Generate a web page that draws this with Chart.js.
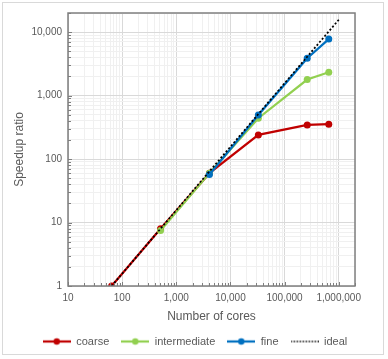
<!DOCTYPE html>
<html>
<head>
<meta charset="utf-8">
<script src="https://cdn.jsdelivr.net/npm/chart.js@4.4.1/dist/chart.umd.min.js"></script>
<style>
    html, body { margin: 0; padding: 0; background: #fff; }
    #wrap { position: relative; width: 388px; height: 359px; }
    #frame { position: absolute; left: 2px; top: 2px; width: 382px; height: 353px; border: 1px solid #d9d9d9; box-sizing: border-box; pointer-events: none; }
</style>
</head>
<body>
<div id="wrap">
    <canvas id="speedupChart" width="388" height="359"></canvas>
    <div id="frame"></div>
</div>
<script>
// cores used in each run
const cores = [64, 512, 4096, 32768, 262144, 655360];
// speedup ratio per decomposition (null = not run)
const coarse = [1, 8, 60, 240, 345, 355];
const intermediate = [null, 7.5, 60, 440, 1790, 2330];
const fine = [null, null, 57, 495, 3870, 7760];
// ideal scaling reference
const idealCores = [64, 1048576];
const idealSpeedup = [1, 16384];

const seriesNames = ['coarse', 'intermediate', 'fine', 'ideal'];
const seriesColors = ['#c00000', '#92d050', '#0070c0', '#000000'];

const xTickValues = [10, 100, 1000, 10000, 100000, 1000000];
const yTickValues = [1, 10, 100, 1000, 10000];

const textColor = '#595959';
const fontFamily = '"Liberation Sans", Arial, sans-serif';

function toPoints(xs, ys) {
    return xs.map((x, i) => ({ x: x, y: ys[i] })).filter(p => p.y !== null);
}

// legend symbol: short line with a dot (or a dotted line for ideal)
function legendSymbol(color, dotted) {
    const c = document.createElement('canvas');
    c.width = 28;
    c.height = 10;
    const g = c.getContext('2d');
    g.strokeStyle = color;
    g.lineWidth = dotted ? 1.5 : 2.25;
    if (dotted) g.setLineDash([1.5, 1.5]);
    g.beginPath();
    g.moveTo(0, 5);
    g.lineTo(28, 5);
    g.stroke();
    if (!dotted) {
        g.fillStyle = color;
        g.beginPath();
        g.arc(14, 5, 3.2, 0, Math.PI * 2);
        g.fill();
    }
    return c;
}

// log ticks 1..9 per decade between min and max
function logTicks(min, max) {
    const ticks = [];
    for (let e = Math.floor(Math.log10(min)); e <= Math.ceil(Math.log10(max)); e++) {
        for (let s = 1; s <= 9; s++) {
            const v = s * Math.pow(10, e);
            if (v >= min - 1e-9 && v <= max + 1e-9) ticks.push({ value: v });
        }
    }
    return ticks;
}

function isMajor(v, list) {
    return list.some(t => Math.abs(t - v) / t < 1e-6);
}

// plot border plus small inside tick marks on the left and bottom axes
const plotFrame = {
    id: 'plotFrame',
    afterDatasetsDraw(chart) {
        const a = chart.chartArea;
        const ctx = chart.ctx;
        const xs = chart.scales.x;
        const ys = chart.scales.y;
        ctx.save();
        ctx.strokeStyle = '#7f7f7f';
        ctx.lineWidth = 1;
        ctx.beginPath();
        xs.ticks.forEach(t => {
            const px = Math.round(xs.getPixelForValue(t.value)) + 0.5;
            const len = isMajor(t.value, xTickValues) ? 4 : 3;
            ctx.moveTo(px, a.bottom);
            ctx.lineTo(px, a.bottom - len);
        });
        ys.ticks.forEach(t => {
            const py = Math.round(ys.getPixelForValue(t.value)) + 0.5;
            const len = isMajor(t.value, yTickValues) ? 4 : 3;
            ctx.moveTo(a.left, py);
            ctx.lineTo(a.left + len, py);
        });
        ctx.stroke();
        ctx.lineWidth = 1.5;
        ctx.strokeRect(a.left, a.top, a.right - a.left, a.bottom - a.top);
        ctx.restore();
    }
};

const dataSeries = [coarse, intermediate, fine];
const datasets = dataSeries.map((vals, i) => ({
    label: seriesNames[i],
    data: toPoints(cores, vals),
    borderColor: seriesColors[i],
    backgroundColor: seriesColors[i],
    borderWidth: 2.25,
    pointRadius: 3.5,
    pointHoverRadius: 3.5,
    pointBorderWidth: 0,
    order: 3 - i
}));
datasets.push({
    label: seriesNames[3],
    data: toPoints(idealCores, idealSpeedup),
    borderColor: seriesColors[3],
    borderWidth: 1.75,
    borderDash: [2, 2],
    pointRadius: 0,
    order: 0
});

new Chart(document.getElementById('speedupChart'), {
    type: 'line',
    data: { datasets: datasets },
    options: {
        responsive: false,
        animation: false,
        layout: { padding: { left: 12, right: 10, top: 13, bottom: 2 } },
        plugins: {
            tooltip: { enabled: false },
            legend: {
                position: 'bottom',
                labels: {
                    usePointStyle: true,
                    pointStyleWidth: 28,
                    boxHeight: 10,
                    padding: 12,
                    color: textColor,
                    font: { family: fontFamily, size: 11 },
                    generateLabels: chart => seriesNames.map((name, i) => ({
                        text: name,
                        datasetIndex: i,
                        pointStyle: legendSymbol(seriesColors[i], i === 3),
                        fontColor: textColor,
                        lineWidth: 0,
                        hidden: false
                    }))
                }
            }
        },
        scales: {
            x: {
                type: 'logarithmic',
                min: 10,
                max: 2000000,
                afterBuildTicks: s => { s.ticks = logTicks(10, 2000000); },
                afterFit: s => { s.height = 38; },
                ticks: {
                    autoSkip: false,
                    maxRotation: 0,
                    padding: 6,
                    color: textColor,
                    font: { family: fontFamily, size: 10 },
                    callback: v => isMajor(v, xTickValues) ? Number(v).toLocaleString('en-US') : ''
                },
                grid: {
                    color: c => isMajor(c.tick.value, xTickValues) ? '#d9d9d9' : '#f0f0f0',
                    drawTicks: false
                },
                border: { display: false },
                title: {
                    display: true,
                    text: 'Number of cores',
                    color: textColor,
                    font: { family: fontFamily, size: 12 },
                    padding: { top: 4, bottom: 0 }
                }
            },
            y: {
                type: 'logarithmic',
                min: 1,
                max: 20000,
                afterBuildTicks: s => { s.ticks = logTicks(1, 20000); },
                afterFit: s => { s.width = 56; },
                ticks: {
                    autoSkip: false,
                    color: textColor,
                    padding: 6,
                    font: { family: fontFamily, size: 10 },
                    callback: v => isMajor(v, yTickValues) ? Number(v).toLocaleString('en-US') : ''
                },
                grid: {
                    color: c => isMajor(c.tick.value, yTickValues) ? '#d9d9d9' : '#f0f0f0',
                    drawTicks: false
                },
                border: { display: false },
                title: {
                    display: true,
                    text: 'Speedup ratio',
                    color: textColor,
                    font: { family: fontFamily, size: 12 },
                    padding: { top: 0, bottom: 6 }
                }
            },
            // empty right-hand box that keeps space beside the plot
            spacer: {
                type: 'linear',
                position: 'right',
                afterFit: s => { s.width = 23; },
                ticks: { display: false },
                grid: { display: false },
                border: { display: false }
            }
        }
    },
    plugins: [plotFrame]
});
</script>
</body>
</html>
